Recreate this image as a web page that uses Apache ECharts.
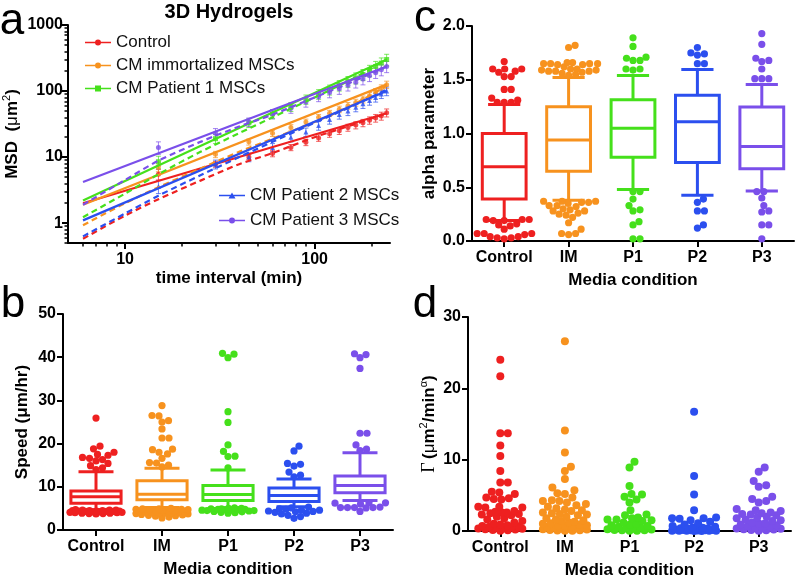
<!DOCTYPE html>
<html><head><meta charset="utf-8">
<script src="https://cdn.jsdelivr.net/npm/echarts@6.0.0/dist/echarts.min.js"></script>
<style>html,body{margin:0;padding:0;background:#fff}#c{width:796px;height:580px}</style>
</head><body><div id="c"></div>
<script>
// ---------- shared ----------
const categories = ['Control', 'IM', 'P1', 'P2', 'P3'];
const conditionNames = ['Control', 'CM immortalized MSCs', 'CM Patient 1 MSCs', 'CM Patient 2 MSCs', 'CM Patient 3 MSCs'];
const colors = ['#ee2020', '#f7921e', '#45e01b', '#2b4fef', '#7a4fea'];
const symbols = ['circle', 'circle', 'rect', 'triangle', 'circle'];

// ---------- panel a : MSD vs time interval ----------
const xTicksA = [10, 100];
const xMinorA = [6, 7, 8, 9, 20, 30, 40, 50, 60, 70, 80, 90, 200];
const yTicksA = [1, 10, 100, 1000];
const yMinorA = [0.5, 0.6, 0.7, 0.8, 0.9, 2, 3, 4, 5, 6, 7, 8, 9, 20, 30, 40, 50, 60, 70, 80, 90, 200, 300, 400, 500, 600, 700, 800, 900];
const tPoints = [15, 30, 45, 60, 75, 90, 105, 120, 135, 150, 165, 180, 195, 210, 225, 240];
const msdControl = [5.5, 7.8, 10, 11.3, 14, 16.7, 19.5, 22.5, 25, 28, 30.5, 33, 36, 39, 42, 47];
const msdIM = [7.2, 11, 17, 23, 28, 34, 40, 46, 53, 60, 67, 75, 85, 97, 110, 125];
const msdP1 = [8.5, 19, 33, 45, 58, 75, 90, 105, 122, 140, 158, 178, 205, 235, 265, 300];
const msdP2 = [3.6, 7.8, 10, 14, 20, 24, 30, 37, 44, 50, 57, 64, 72, 80, 90, 100];
const msdP3 = [14, 23, 34, 45, 55, 68, 82, 95, 108, 122, 136, 152, 170, 190, 210, 235];
const errControl = [1.0, 0.8, 0.9, 1.2, 1.5, 1.8, 2.2, 2.6, 3.0, 3.4, 3.8, 4.2, 4.6, 5.2, 5.8, 6.5];
const errIM = [1.2, 1.2, 1.8, 2.5, 3, 3.6, 4.2, 5, 6, 7, 8, 9, 10, 12, 14, 16];
const errP1 = [1.8, 3, 5, 7, 9, 12, 15, 18, 22, 26, 30, 34, 40, 46, 52, 60];
const errP2 = [0.8, 1.2, 1.5, 2, 3, 3.5, 4.5, 5.5, 6.5, 7.5, 8.5, 9.5, 11, 12, 13, 15];
const errP3 = [3, 4, 5, 7, 9, 11, 13, 16, 19, 22, 25, 28, 31, 35, 40, 45];
const fitT = [6, 240];
const fitControl = [2.0, 46];
const fitIM = [1.9, 125];
const fitP1 = [2.2, 300];
const fitP2 = [1.1, 100];
const fitP3 = [4.2, 235];
const dashT = [6, 10, 15, 25, 40, 60, 100, 160, 240];
const dashControl = [0.58, 1.3, 2.3, 4.4, 7.8, 11.5, 20, 31, 46];
const dashIM = [0.93, 2.0, 3.5, 6.7, 12, 19, 34, 62, 120];
const dashP1 = [1.23, 2.8, 5.5, 12, 23, 40, 80, 155, 300];
const dashP2 = [0.63, 1.4, 2.6, 5.3, 10, 17, 33, 60, 105];
const dashP3 = [1.9, 4.5, 8.8, 17, 29, 44, 80, 140, 235];

// ---------- panel b : speed ----------
// [lower whisker, Q1, median, Q3, upper whisker]
const speedControl = [4.7, 6.2, 7.7, 9.0, 13.5];
const speedIM = [5.2, 7.0, 8.3, 11.4, 14.3];
const speedP1 = [5.0, 6.8, 8.2, 10.3, 13.9];
const speedP2 = [5.4, 6.6, 8.0, 9.7, 11.8];
const speedP3 = [6.8, 8.6, 10.3, 12.5, 17.9];
const speedOutControl = [25.9, 19.4, 18.8, 18.0, 17.5, 17.3, 16.8, 16.6, 16.3, 16.0, 15.4, 14.9, 14.4, 14.0,
  4.6, 4.5, 4.5, 4.4, 4.4, 4.3, 4.3, 4.2, 4.2, 4.1, 4.1, 4.0, 4.0, 3.9, 3.9, 3.8, 3.8, 3.7, 4.6, 4.5, 4.4, 4.3, 4.7, 4.6];
const speedOutIM = [28.8, 26.5, 26.4, 25.3, 25.0, 23.4, 21.3, 21.3, 18.6, 18.7, 18.0, 17.6, 16.6, 15.5, 15.6, 15.0, 14.6,
  5.0, 4.9, 4.8, 4.8, 4.7, 4.6, 4.6, 4.5, 4.5, 4.4, 4.3, 4.3, 4.2, 4.1, 4.0, 4.0, 3.9, 3.8, 3.7, 3.6, 3.5, 3.4, 3.3, 3.2, 3.0, 2.8, 4.9, 4.7];
const speedOutP1 = [40.9, 40.7, 39.9, 27.4, 24.9, 19.7, 18.2, 17.0, 17.1, 14.4,
  5.1, 5.0, 5.0, 4.9, 4.9, 4.8, 4.8, 4.7, 4.7, 4.6, 4.6, 4.5, 4.5, 4.4, 4.3, 4.2, 4.1, 4.0, 3.9];
const speedOutP2 = [19.4, 18.3, 15.4, 15.2, 14.8, 13.4, 12.7, 12.3,
  5.3, 5.1, 4.9, 4.8, 4.6, 4.4, 4.3, 4.1, 3.9, 3.7, 3.4, 3.1, 2.7, 4.6, 4.2];
const speedOutP3 = [40.8, 40.6, 39.9, 37.4, 22.4, 22.4, 19.7, 18.7, 18.4,
  6.2, 6.3, 6.3, 6.0, 5.3, 5.2, 5.2, 5.2, 5.2, 5.1, 4.3];

// ---------- panel c : alpha parameter ----------
const alphaControl = [0.19, 0.39, 0.69, 1.0, 1.27];
const alphaIM = [0.38, 0.65, 0.94, 1.25, 1.52];
const alphaP1 = [0.48, 0.78, 1.05, 1.315, 1.54];
const alphaP2 = [0.425, 0.73, 1.11, 1.355, 1.595];
const alphaP3 = [0.465, 0.673, 0.88, 1.247, 1.455];
const alphaOutControl = [1.67, 1.60, 1.60, 1.58, 1.60, 1.57, 1.53, 1.53, 1.41, 1.41, 1.33, 1.29, 1.29, 1.29, 1.31,
  0.20, 0.19, 0.19, 0.20, 0.20, 0.15, 0.14, 0.16, 0.11, 0.07, 0.07, 0.06, 0.07, 0.04, 0.03, 0.03, 0.04, 0.02];
const alphaOutIM = [1.82, 1.80, 1.66, 1.65, 1.65, 1.64, 1.65, 1.66, 1.65, 1.64, 1.62, 1.60, 1.59, 1.58, 1.58, 1.57, 1.58, 1.59, 1.60, 1.56, 1.55, 1.54,
  0.37, 0.37, 0.36, 0.35, 0.36, 0.37, 0.33, 0.33, 0.32, 0.30, 0.29, 0.28, 0.28, 0.26, 0.25, 0.24, 0.22, 0.17, 0.11, 0.07, 0.06, 0.07];
const alphaOutP1 = [1.89, 1.81, 1.68, 1.70, 1.68, 1.71, 1.59, 1.60, 1.60,
  0.46, 0.46, 0.39, 0.33, 0.28, 0.29, 0.18, 0.15, 0.02, 0.02];
const alphaOutP2 = [1.80, 1.75, 1.74, 1.73, 1.65, 1.65,
  0.39, 0.36, 0.28, 0.28, 0.15, 0.12];
const alphaOutP3 = [1.93, 1.83, 1.70, 1.68, 1.67, 1.60, 1.51, 1.51, 1.51,
  0.46, 0.46, 0.40, 0.33, 0.28, 0.27, 0.15, 0.15, 0.02];

// ---------- panel d : Gamma ----------
const gammaControl = [24.0, 21.7, 13.7, 13.7, 12.0, 10.5, 8.4, 6.8, 6.8, 5.4, 5.5, 5.2, 4.7, 4.6, 4.4, 4.5, 3.4, 3.3, 3.3, 3.4,
  2.8, 2.7, 2.6, 2.6, 2.5, 2.4, 2.3, 2.2, 2.0, 1.8, 1.6, 1.4, 1.2, 1.0, 0.9,
  0.8, 0.7, 0.65, 0.6, 0.5, 0.45, 0.4, 0.35, 0.3, 0.25, 0.2, 0.15, 0.1, 0.05];
const gammaIM = [26.6, 14.1, 11.0, 9.0, 8.4, 7.3, 6.1, 5.7, 5.3, 5.2, 4.7, 4.3, 4.2, 4.2, 4.0,
  3.8, 3.6, 3.4, 3.2, 3.0, 2.9, 2.8, 2.6, 2.5, 2.4, 2.3, 2.2, 2.0, 1.8, 1.6, 1.5,
  1.4, 1.3, 1.2, 1.1, 1.0, 0.9, 0.8, 0.75, 0.7, 0.6, 0.55, 0.5, 0.45, 0.4, 0.35, 0.3, 0.25,
  0.2, 0.15, 0.1, 0.08, 0.05, 0.03];
const gammaP1 = [9.7, 8.9, 6.3, 5.2, 4.8, 5.1, 4.4, 4.0, 2.9, 2.2, 2.3, 1.6, 1.6, 1.9, 1.5, 1.2, 1.0, 0.8, 0.6, 0.5, 0.4,
  0.3, 0.25, 0.2, 0.15, 0.1, 0.1, 0.05, 0.05, 1.8, 1.4, 0.9, 0.7];
const gammaP2 = [16.7, 7.7, 5.1, 2.9, 1.9, 1.8, 1.8, 1.7, 1.5, 1.3, 1.1, 0.9, 0.7, 0.6, 0.5, 0.45,
  0.4, 0.35, 0.3, 0.25, 0.2, 0.2, 0.15, 0.15, 0.1, 0.1, 0.08, 0.05, 0.05, 0.03, 0.02, 0.02, 0.01, 0.01];
const gammaP3 = [8.9, 8.3, 7.0, 6.4, 6.2, 4.8, 4.5, 4.2, 4.0, 3.1, 2.9, 2.8, 2.6, 2.5, 2.4, 2.3, 2.2, 2.0, 1.9,
  1.8, 1.6, 1.5, 1.4, 1.2, 1.1, 1.0, 0.9, 0.8, 0.7, 0.6, 0.5, 0.4, 0.35, 0.3, 0.25, 0.2, 0.15, 0.1, 0.05];

// ---------- helpers ----------
const FONT = '"Liberation Sans", Arial, Helvetica, sans-serif';
const AXIS_LINE = { show: true, lineStyle: { color: '#000', width: 2 } };
const AXIS_TICK = { show: true, length: 6, lineStyle: { color: '#000', width: 2 } };
const LABEL = { color: '#000', fontWeight: 'bold', fontSize: 16, fontFamily: FONT };
const NAME = { color: '#000', fontWeight: 'bold', fontSize: 17, fontFamily: FONT };
const pairs = (xs, ys) => xs.map((x, i) => [x, ys[i]]);

function swarmData(lists) {
  const out = [];
  lists.forEach((arr, i) => arr.slice().sort((a, b) => a - b).forEach(v => out.push([i, v])));
  return out;
}
function makeSwarm(radius, maxHalf) {
  let placed = {};
  return function (params, api) {
    if (params.dataIndexInside === 0) placed = {};
    const cat = api.value(0), v = api.value(1);
    const p = api.coord([cat, v]);
    const list = placed[cat] || (placed[cat] = []);
    const d = radius * 2 * 0.92;
    let best = 0, bestScore = -1;
    const steps = Math.ceil(maxHalf / 0.5);
    for (let k = 0; k <= 2 * steps; k++) {
      const dx = (k % 2 ? 1 : -1) * Math.ceil(k / 2) * 0.5;
      let minD = Infinity;
      for (const q of list) {
        const dd = Math.hypot(dx - q[0], p[1] - q[1]);
        if (dd < minD) minD = dd;
      }
      if (minD >= d) { best = dx; bestScore = Infinity; break; }
      if (minD > bestScore) { bestScore = minD; best = dx; }
    }
    list.push([best, p[1]]);
    return { type: 'circle', shape: { cx: p[0] + best, cy: p[1], r: radius }, style: { fill: colors[cat] } };
  };
}
function makeBox(boxFrac, capFrac) {
  return function (params, api) {
    const cat = api.value(0);
    const band = api.size([1, 0])[0];
    const cx = api.coord([cat, api.value(3)])[0];
    const y = [1, 2, 3, 4, 5].map(k => api.coord([cat, api.value(k)])[1]);
    const hw = band * boxFrac / 2, cw = band * capFrac / 2;
    const st = { stroke: colors[cat], lineWidth: 3, fill: null };
    const line = (x1, y1, x2, y2) => ({ type: 'line', shape: { x1, y1, x2, y2 }, style: st });
    return { type: 'group', children: [
      { type: 'rect', shape: { x: cx - hw, y: y[3], width: 2 * hw, height: y[1] - y[3] }, style: st },
      line(cx - hw, y[2], cx + hw, y[2]),
      line(cx, y[3], cx, y[4]),
      line(cx, y[1], cx, y[0]),
      line(cx - cw, y[4], cx + cw, y[4]),
      line(cx - cw, y[0], cx + cw, y[0])
    ] };
  };
}
function makeErr(color) {
  return function (params, api) {
    const t = api.value(0);
    const lo = api.coord([t, api.value(1)]), hi = api.coord([t, api.value(2)]);
    const st = { stroke: color, lineWidth: 1, opacity: 0.7 };
    return { type: 'group', children: [
      { type: 'line', shape: { x1: lo[0], y1: lo[1], x2: hi[0], y2: hi[1] }, style: st },
      { type: 'line', shape: { x1: lo[0] - 2.5, y1: lo[1], x2: lo[0] + 2.5, y2: lo[1] }, style: st },
      { type: 'line', shape: { x1: hi[0] - 2.5, y1: hi[1], x2: hi[0] + 2.5, y2: hi[1] }, style: st }
    ] };
  };
}
function catAxis(grid) {
  return { type: 'category', gridIndex: grid, data: categories,
    axisLine: AXIS_LINE, axisTick: Object.assign({ alignWithLabel: true, interval: 0 }, AXIS_TICK),
    axisLabel: Object.assign({ margin: 9, interval: 0, hideOverlap: false }, LABEL),
    name: 'Media condition', nameLocation: 'middle', nameGap: 31, nameTextStyle: NAME };
}
function valAxis(grid, min, max, interval, fmt, name, gap) {
  return { type: 'value', gridIndex: grid, min, max, interval,
    axisLine: AXIS_LINE, axisTick: AXIS_TICK, splitLine: { show: false },
    axisLabel: Object.assign({ margin: 7, formatter: fmt }, LABEL),
    name, nameLocation: 'middle', nameGap: gap, nameTextStyle: NAME };
}

// ---------- panel a series ----------
const msd = [msdControl, msdIM, msdP1, msdP2, msdP3];
const errs = [errControl, errIM, errP1, errP2, errP3];
const fits = [fitControl, fitIM, fitP1, fitP2, fitP3];
const dashes = [dashControl, dashIM, dashP1, dashP2, dashP3];
const seriesA = [];
conditionNames.forEach((nm, i) => {
  seriesA.push({ type: 'line', name: nm, xAxisIndex: 0, yAxisIndex: 0, color: colors[i],
    data: pairs(fitT, fits[i]), symbol: 'none', lineStyle: { width: 2.2 } });
  seriesA.push({ type: 'line', name: nm, xAxisIndex: 0, yAxisIndex: 0, color: colors[i],
    data: pairs(dashT, dashes[i]), symbol: 'none', smooth: 0.3, lineStyle: { width: 2.2, type: [6, 4] } });
  seriesA.push({ type: 'custom', name: nm, xAxisIndex: 0, yAxisIndex: 0, color: colors[i],
    data: tPoints.map((t, k) => [t, msd[i][k] - errs[i][k], msd[i][k] + errs[i][k]]),
    encode: { x: 0, y: [1, 2] }, renderItem: makeErr(colors[i]) });
  seriesA.push({ type: 'scatter', name: nm, xAxisIndex: 0, yAxisIndex: 0, color: colors[i],
    data: pairs(tPoints, msd[i]), symbol: symbols[i], symbolSize: 5 });
});

const icons = [
  'path://M0,3.2L26,3.2L26,4.8L0,4.8Z M16,4A3,3 0 1 1 10,4A3,3 0 1 1 16,4Z',
  'path://M0,3.2L26,3.2L26,4.8L0,4.8Z M16,4A3,3 0 1 1 10,4A3,3 0 1 1 16,4Z',
  'path://M0,3.2L26,3.2L26,4.8L0,4.8Z M10,1L16,1L16,7L10,7Z',
  'path://M0,3.2L26,3.2L26,4.8L0,4.8Z M13,1L16.5,7L9.5,7Z',
  'path://M0,3.2L26,3.2L26,4.8L0,4.8Z M16,4A3,3 0 1 1 10,4A3,3 0 1 1 16,4Z'
];
const legendText = { color: '#111', fontSize: 17, fontFamily: FONT };

const option = {
  animation: false,
  backgroundColor: '#fff',
  grid: [
    { left: 66, top: 25, width: 324, height: 218 },
    { left: 63, top: 314, width: 330, height: 216 },
    { left: 472, top: 26, width: 322, height: 215 },
    { left: 468, top: 317, width: 323, height: 215 }
  ],
  xAxis: [
    { type: 'log', gridIndex: 0, min: 5, max: 250, axisLine: AXIS_LINE,
      axisTick: Object.assign({ customValues: xTicksA }, AXIS_TICK),
      axisLabel: Object.assign({ customValues: xTicksA, margin: 9, formatter: v => String(+(+v).toPrecision(6)) }, LABEL),
      splitLine: { show: false }, minorTick: { show: false },
      name: 'time interval (min)', nameLocation: 'middle', nameGap: 27, nameTextStyle: NAME },
    { type: 'log', gridIndex: 0, min: 5, max: 250, position: 'bottom', axisLine: { show: false },
      axisTick: { show: true, customValues: xMinorA, length: 3.5, lineStyle: { color: '#000', width: 1.5 } },
      axisLabel: { show: false }, splitLine: { show: false } },
    catAxis(1), catAxis(2), catAxis(3)
  ],
  yAxis: [
    { type: 'log', gridIndex: 0, min: 0.5, max: 1000, axisLine: AXIS_LINE,
      axisTick: Object.assign({ customValues: yTicksA }, AXIS_TICK),
      axisLabel: Object.assign({ customValues: yTicksA, margin: 5, formatter: v => String(+(+v).toPrecision(6)) }, LABEL),
      splitLine: { show: false },
      name: '{b|MSD  (}{m|μ}{b|m}{s|2}{b|)}', nameLocation: 'middle', nameGap: 45,
      nameTextStyle: { rich: {
        b: { color: '#000', fontWeight: 'bold', fontSize: 17, fontFamily: FONT, lineHeight: 22 },
        m: { color: '#000', fontSize: 17, fontFamily: FONT, lineHeight: 22 },
        s: { color: '#000', fontSize: 11, fontFamily: FONT, lineHeight: 11, verticalAlign: 'top' } } } },
    { type: 'log', gridIndex: 0, min: 0.5, max: 1000, position: 'left', axisLine: { show: false },
      axisTick: { show: true, customValues: yMinorA, length: 3.5, lineStyle: { color: '#000', width: 1.5 } },
      axisLabel: { show: false }, splitLine: { show: false } },
    valAxis(1, 0, 50, 10, v => String(v), 'Speed (μm/hr)', 32),
    valAxis(2, 0, 2, 0.5, v => v.toFixed(1), 'alpha parameter', 34),
    Object.assign(valAxis(3, 0, 30, 10, v => String(v), '{g|Γ} {b|(}{m|μ}{b|m}{s|2}{b|/min}{s|α}{b|)}', 28), {
      nameTextStyle: { rich: {
        g: { color: '#000', fontSize: 18, fontFamily: '"Liberation Serif", serif', lineHeight: 22 },
        b: { color: '#000', fontWeight: 'bold', fontSize: 17, fontFamily: FONT, lineHeight: 22 },
        m: { color: '#000', fontSize: 17, fontFamily: FONT, lineHeight: 22 },
        s: { color: '#000', fontSize: 11, fontFamily: FONT, lineHeight: 11, verticalAlign: 'top' } } } })
  ],
  legend: [
    { left: 80, top: 29, orient: 'vertical', itemGap: 6, itemWidth: 26, itemHeight: 6, selectedMode: false,
      textStyle: legendText,
      data: [0, 1, 2].map(i => ({ name: conditionNames[i], icon: icons[i] })) },
    { left: 214, top: 182, orient: 'vertical', itemGap: 8, itemWidth: 26, itemHeight: 6, selectedMode: false,
      textStyle: legendText,
      data: [3, 4].map(i => ({ name: conditionNames[i], icon: icons[i] })) }
  ],
  graphic: [
    { type: 'text', x: 229, y: 12, style: { text: '3D Hydrogels', fill: '#000', font: 'bold 20px "Liberation Sans", Arial', align: 'center', verticalAlign: 'middle' } },
    { type: 'text', x: 12, y: 22, style: { text: 'a', fill: '#000', font: '44px "Liberation Sans", Arial', align: 'center', verticalAlign: 'middle' } },
    { type: 'text', x: 13, y: 305, style: { text: 'b', fill: '#000', font: '44px "Liberation Sans", Arial', align: 'center', verticalAlign: 'middle' } },
    { type: 'text', x: 425, y: 19, style: { text: 'c', fill: '#000', font: '44px "Liberation Sans", Arial', align: 'center', verticalAlign: 'middle' } },
    { type: 'text', x: 425, y: 305, style: { text: 'd', fill: '#000', font: '44px "Liberation Sans", Arial', align: 'center', verticalAlign: 'middle' } }
  ],
  series: seriesA.concat([
    { type: 'custom', name: 'speed box', xAxisIndex: 2, yAxisIndex: 2, silent: true,
      data: [speedControl, speedIM, speedP1, speedP2, speedP3].map((s, i) => [i].concat(s)),
      encode: { x: 0, y: [1, 2, 3, 4, 5] }, renderItem: makeBox(0.76, 0.53) },
    { type: 'custom', name: 'speed outliers', xAxisIndex: 2, yAxisIndex: 2, silent: true,
      data: swarmData([speedOutControl, speedOutIM, speedOutP1, speedOutP2, speedOutP3]),
      encode: { x: 0, y: 1 }, renderItem: makeSwarm(3.6, 26) },
    { type: 'custom', name: 'alpha box', xAxisIndex: 3, yAxisIndex: 3, silent: true,
      data: [alphaControl, alphaIM, alphaP1, alphaP2, alphaP3].map((s, i) => [i].concat(s)),
      encode: { x: 0, y: [1, 2, 3, 4, 5] }, renderItem: makeBox(0.68, 0.5) },
    { type: 'custom', name: 'alpha outliers', xAxisIndex: 3, yAxisIndex: 3, silent: true,
      data: swarmData([alphaOutControl, alphaOutIM, alphaOutP1, alphaOutP2, alphaOutP3]),
      encode: { x: 0, y: 1 }, renderItem: makeSwarm(3.6, 29) },
    { type: 'custom', name: 'gamma', xAxisIndex: 4, yAxisIndex: 4, silent: true,
      data: swarmData([gammaControl, gammaIM, gammaP1, gammaP2, gammaP3]),
      encode: { x: 0, y: 1 }, renderItem: makeSwarm(4, 22) }
  ])
};

const chart = echarts.init(document.getElementById('c'), null, { renderer: 'canvas' });
chart.setOption(option);
</script>
</body></html>
